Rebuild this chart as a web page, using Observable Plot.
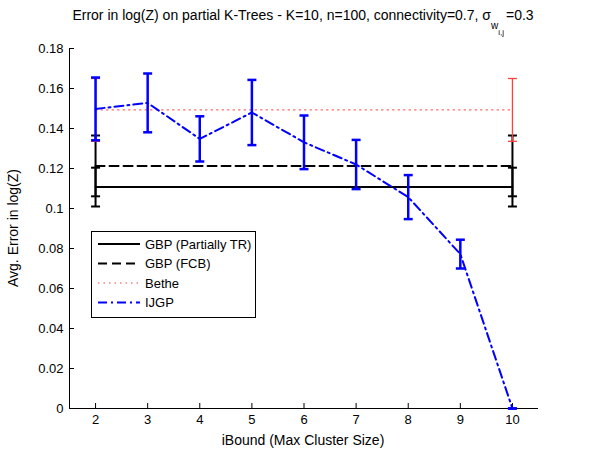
<!DOCTYPE html>
<html><head>
<meta charset="utf-8">
<script src="https://cdn.jsdelivr.net/npm/d3@7"></script>
<script src="https://cdn.jsdelivr.net/npm/@observablehq/plot@0.6"></script>
<style>body{margin:0;background:#fff;} #chart{position:relative;width:592px;height:456px;}</style>
</head><body><div id="chart"></div>
<script>
const iBound = [2, 3, 4, 5, 6, 7, 8, 9, 10];
const ijgpMean = [0.1498, 0.1528, 0.1348, 0.1480, 0.1331, 0.1220, 0.1057, 0.0772, 0.0];
const ijgpErr  = [0.0157, 0.0147, 0.0113, 0.0163, 0.0134, 0.0123, 0.0110, 0.0072, 0.0];
const gbpTRMean = 0.1107, gbpTRErr = 0.0097;
const gbpFCBMean = 0.1213, gbpFCBErr = 0.0152;
const betheMean = 0.1493, betheErr = 0.0157;
const endpoints = [2, 10];
const xTicks = [2, 3, 4, 5, 6, 7, 8, 9, 10];
const yTicks = [0, 0.02, 0.04, 0.06, 0.08, 0.1, 0.12, 0.14, 0.16, 0.18];
const yTickLabels = ["0", "0.02", "0.04", "0.06", "0.08", "0.1", "0.12", "0.14", "0.16", "0.18"];
const legendLabels = ["GBP (Partially TR)", "GBP (FCB)", "Bethe", "IJGP"];

const FONT = "'Liberation Sans', Arial, Helvetica, sans-serif";
const yLabelMap = new Map(yTicks.map((t, i) => [t, yTickLabels[i]]));
const ijgp = iBound.map((x, i) => ({x, y: ijgpMean[i], lo: ijgpMean[i] - ijgpErr[i], hi: ijgpMean[i] + ijgpErr[i]}));
const flat = (m, e) => endpoints.map(x => ({x, y: m, lo: m - e, hi: m + e}));
const tr = flat(gbpTRMean, gbpTRErr), fcb = flat(gbpFCBMean, gbpFCBErr), bethe = flat(betheMean, betheErr);

const cap = {draw(ctx, size) { const r = Math.sqrt(size / Math.PI); ctx.moveTo(-r, 0); ctx.lineTo(r, 0); }};
function errbars(data, color, w) {
  return [
    Plot.ruleX(data, {x: "x", y1: "lo", y2: "hi", stroke: color, strokeWidth: w}),
    Plot.dot(data, {x: "x", y: "lo", r: 4.5, symbol: cap, stroke: color, strokeWidth: w, fill: "none"}),
    Plot.dot(data, {x: "x", y: "hi", r: 4.5, symbol: cap, stroke: color, strokeWidth: w, fill: "none"})
  ];
}

const plot = Plot.plot({
  width: 592, height: 456,
  marginLeft: 69, marginRight: 54, marginTop: 48, marginBottom: 48,
  style: {fontFamily: FONT, background: "white", color: "#000"},
  x: {domain: [1.5, 10.5]},
  y: {domain: [0, 0.18]},
  marks: [
    Plot.ruleX([1.5], {stroke: "#000", strokeWidth: 1}),
    Plot.ruleY([0], {stroke: "#000", strokeWidth: 1}),
    Plot.axisX({ticks: xTicks, tickSize: -5, tickPadding: 11, tickFormat: d => String(d), fontSize: 13, label: null, stroke: "#000"}),
    Plot.axisY({ticks: yTicks, tickSize: -5, tickPadding: 11, tickFormat: d => yLabelMap.get(d), fontSize: 13, label: null, stroke: "#000"}),
    Plot.line(tr, {x: "x", y: "y", stroke: "#000", strokeWidth: 2}),
    ...errbars(tr, "#000", 2),
    Plot.line(fcb, {x: "x", y: "y", stroke: "#000", strokeWidth: 2, strokeDasharray: "9,5"}),
    ...errbars(fcb, "#000", 2),
    Plot.line(bethe, {x: "x", y: "y", stroke: "#ff4040", strokeWidth: 1, strokeDasharray: "1.5,4"}),
    ...errbars(bethe, "#ff4040", 1.3),
    Plot.line(ijgp, {x: "x", y: "y", stroke: "#0000ff", strokeWidth: 2, strokeDasharray: "9,4,2,4"}),
    ...errbars(ijgp, "#0000ff", 2.5)
  ]
});
document.getElementById("chart").appendChild(plot);

const svg = d3.select(plot);
// title
const title = svg.append("text").attr("x", 303).attr("y", 20).attr("text-anchor", "middle")
  .style("font-family", FONT).style("font-size", "14px").attr("fill", "#000");
title.append("tspan").text("Error in log(Z) on partial K-Trees - K=10, n=100, connectivity=0.7, σ");
title.append("tspan").attr("dy", 9).style("font-size", "10px").text("w");
title.append("tspan").attr("dy", 6).style("font-size", "8px").text("i,j");
title.append("tspan").attr("dy", -15).attr("dx", 2).text("=0.3");
// axis labels
svg.append("text").attr("x", 303).attr("y", 445).attr("text-anchor", "middle")
  .style("font-family", FONT).style("font-size", "14px").attr("fill", "#000").text("iBound (Max Cluster Size)");
svg.append("text").attr("transform", "translate(18,228) rotate(-90)").attr("text-anchor", "middle")
  .style("font-family", FONT).style("font-size", "14px").attr("fill", "#000").text("Avg. Error in log(Z)");
// legend
const lg = svg.append("g");
lg.append("rect").attr("x", 91.5).attr("y", 231.5).attr("width", 164).attr("height", 86)
  .attr("fill", "white").attr("stroke", "#000").attr("stroke-width", 1);
const styles = [
  {stroke: "#000", w: 2, dash: null},
  {stroke: "#000", w: 2, dash: "9,5"},
  {stroke: "#ff4040", w: 1, dash: "1.5,4"},
  {stroke: "#0000ff", w: 2, dash: "9,4,2,4"}
];
legendLabels.forEach((lab, i) => {
  const y = 244 + i * 19.5;
  lg.append("line").attr("x1", 98).attr("x2", 140).attr("y1", y).attr("y2", y)
    .attr("stroke", styles[i].stroke).attr("stroke-width", styles[i].w).attr("stroke-dasharray", styles[i].dash);
  lg.append("text").attr("x", 145).attr("y", y).attr("dy", "0.35em").attr("text-anchor", "start")
    .style("font-family", FONT).style("font-size", "13px").attr("fill", "#000").text(lab);
});
</script>
</body></html>
